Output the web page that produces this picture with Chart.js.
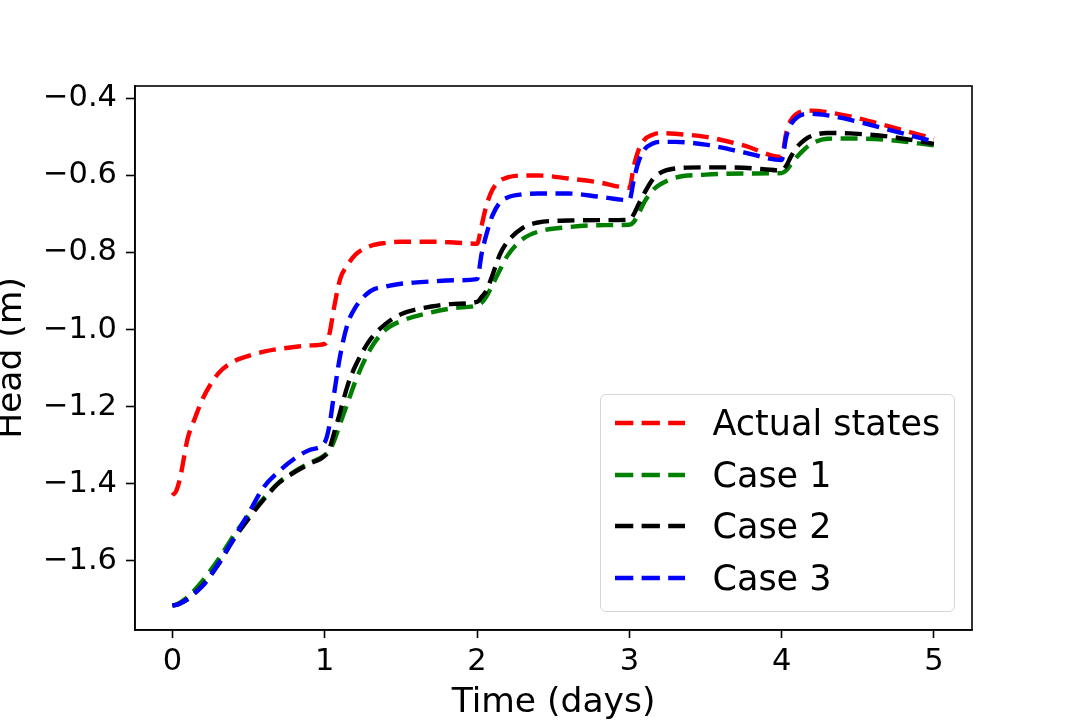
<!DOCTYPE html>
<html><head><meta charset="utf-8">
<script src="https://cdn.jsdelivr.net/npm/chart.js@4.4.0/dist/chart.umd.min.js"></script>
<style>
html,body{margin:0;padding:0;background:#fff;}
#wrap{position:relative;width:1080px;height:720px;overflow:hidden;}
#c{position:absolute;left:0;top:0;width:1080px;height:720px;}
#legend{position:absolute;left:600px;top:394px;width:353px;height:216px;border:1.5px solid #d6d6d6;border-radius:6px;background:rgba(255,255,255,0.8);}
.row{position:absolute;left:0;height:40px;display:flex;align-items:center;font-family:'DejaVu Sans';font-size:35px;color:#000;white-space:nowrap;}
.row svg{margin-left:13.5px;margin-right:28px;display:block;}
</style></head><body>
<div id="wrap"><canvas id="c" width="1080" height="720"></canvas><div id="legend"></div></div>
<script>
// ---- data ----
const timeDays = [0, 0.025, 0.05, 0.1, 0.15, 0.2, 0.3, 0.4, 0.5, 0.6, 0.7, 0.8, 0.9, 1.0,
  1.03, 1.06, 1.1, 1.15, 1.2, 1.3, 1.4, 1.5, 1.7, 1.85, 2.0,
  2.03, 2.06, 2.1, 2.15, 2.2, 2.3, 2.4, 2.6, 2.8, 3.0,
  3.03, 3.06, 3.1, 3.15, 3.2, 3.3, 3.5, 3.75, 4.0,
  4.03, 4.06, 4.1, 4.15, 4.2, 4.3, 4.45, 4.7, 5.0];

const actualStates = [-1.430, -1.418, -1.385, -1.282, -1.227, -1.178, -1.114, -1.083, -1.068, -1.057, -1.050, -1.045, -1.041, -1.037,
  -1.012, -0.945, -0.870, -0.832, -0.806, -0.783, -0.775, -0.772, -0.772, -0.774, -0.777,
  -0.730, -0.680, -0.638, -0.614, -0.605, -0.600, -0.600, -0.608, -0.618, -0.632,
  -0.575, -0.535, -0.507, -0.495, -0.490, -0.492, -0.500, -0.522, -0.552,
  -0.490, -0.457, -0.440, -0.433, -0.432, -0.436, -0.447, -0.472, -0.505];

const case1 = [-1.715, -1.713, -1.708, -1.693, -1.673, -1.650, -1.597, -1.535, -1.482, -1.437, -1.396, -1.368, -1.346, -1.326,
  -1.315, -1.290, -1.245, -1.190, -1.135, -1.050, -1.000, -0.978, -0.955, -0.944, -0.937,
  -0.930, -0.915, -0.885, -0.845, -0.808, -0.765, -0.746, -0.734, -0.729, -0.728,
  -0.720, -0.700, -0.668, -0.640, -0.624, -0.606, -0.598, -0.595, -0.594,
  -0.587, -0.572, -0.552, -0.532, -0.517, -0.505, -0.504, -0.508, -0.522];

const case2 = [-1.715, -1.714, -1.710, -1.699, -1.682, -1.662, -1.610, -1.545, -1.490, -1.440, -1.397, -1.370, -1.348, -1.327,
  -1.310, -1.270, -1.215, -1.145, -1.095, -1.025, -0.985, -0.960, -0.940, -0.933, -0.928,
  -0.915, -0.900, -0.860, -0.805, -0.772, -0.736, -0.722, -0.717, -0.716, -0.715,
  -0.700, -0.675, -0.645, -0.612, -0.594, -0.582, -0.579, -0.580, -0.587,
  -0.575, -0.552, -0.527, -0.508, -0.497, -0.490, -0.491, -0.499, -0.518];

const case3 = [-1.715, -1.714, -1.710, -1.699, -1.682, -1.664, -1.608, -1.543, -1.476, -1.408, -1.367, -1.335, -1.312, -1.292,
  -1.250, -1.170, -1.070, -0.985, -0.943, -0.900, -0.888, -0.881, -0.875, -0.872, -0.869,
  -0.803, -0.755, -0.705, -0.670, -0.657, -0.649, -0.647, -0.647, -0.655, -0.664,
  -0.610, -0.565, -0.532, -0.518, -0.513, -0.513, -0.520, -0.540, -0.560,
  -0.500, -0.468, -0.450, -0.441, -0.440, -0.444, -0.456, -0.481, -0.512];

const seriesLabels = ['Actual states', 'Case 1', 'Case 2', 'Case 3'];
const seriesColors = ['#ff0000', '#008000', '#000000', '#0000ff'];
const seriesValues = [actualStates, case1, case2, case3];
const xTickStep = 1;
const yTickStep = 0.2;
const xLabel = 'Time (days)';
const yLabel = 'Head (m)';

// ---- chart ----
const FONT = 'DejaVu Sans';
const DASH = [17, 8.5];

const datasets = seriesValues.map((vals, i) => ({
  label: seriesLabels[i],
  data: vals.map((v, k) => ({x: timeDays[k], y: v})),
  borderColor: seriesColors[i],
  backgroundColor: seriesColors[i],
  borderWidth: 4.4,
  borderDash: DASH,
  borderCapStyle: 'butt',
  pointRadius: 0,
  fill: false,
  cubicInterpolationMode: 'monotone',
  order: seriesValues.length - i
}));

const frame = {
  id: 'frame',
  afterDatasetsDraw(chart) {
    const a = chart.chartArea, ctx = chart.ctx;
    ctx.save();
    ctx.strokeStyle = '#000';
    ctx.lineWidth = 1.6;
    ctx.setLineDash([]);
    ctx.strokeRect(a.left, a.top, a.right - a.left, a.bottom - a.top);
    ctx.restore();
  }
};

const chart = new Chart(document.getElementById('c'), {
  type: 'line',
  data: {datasets},
  plugins: [frame],
  options: {
    responsive: false,
    animation: false,
    devicePixelRatio: 1,
    layout: {padding: {left: 0, top: 86, right: 108, bottom: 0}},
    plugins: {legend: {display: false}, tooltip: {enabled: false}},
    scales: {
      x: {
        type: 'linear',
        min: -0.246, max: 5.25,
        afterFit: s => { s.height = 90; },
        border: {display: true, color: '#000', width: 1.6},
        grid: {display: true, drawOnChartArea: false, drawTicks: true, tickLength: 8, tickColor: '#000', tickWidth: 1.6},
        ticks: {
          stepSize: xTickStep, includeBounds: false, color: '#000', padding: 9, maxRotation: 0,
          font: {family: FONT, size: 30.5, lineHeight: 1},
          callback: v => String(Math.round(v))
        },
        title: {display: true, text: xLabel, color: '#000', font: {family: FONT, size: 34.5, lineHeight: 1}, padding: {top: 0, bottom: 0}}
      },
      y: {
        type: 'linear',
        min: -1.779, max: -0.368,
        afterFit: s => { s.width = 135; },
        border: {display: true, color: '#000', width: 1.6},
        grid: {display: true, drawOnChartArea: false, drawTicks: true, tickLength: 9, tickColor: '#000', tickWidth: 1.6},
        ticks: {
          stepSize: yTickStep, includeBounds: false, color: '#000', padding: 9,
          font: {family: FONT, size: 30.5, lineHeight: 1},
          callback: v => v.toFixed(1).replace('-', '\u2212')
        },
        title: {display: true, text: yLabel, color: '#000', font: {family: FONT, size: 34.5, lineHeight: 1}, padding: {top: -5, bottom: 0}}
      }
    }
  }
});

// ---- legend built from the chart's datasets ----
const legend = document.getElementById('legend');
const rowCenters = [423.3, 475, 526.7, 578.3];
chart.data.datasets.forEach((ds, i) => {
  const row = document.createElement('div');
  row.className = 'row';
  row.style.top = (rowCenters[i] - 20 - 395.5) + 'px';
  const svgNS = 'http://www.w3.org/2000/svg';
  const svg = document.createElementNS(svgNS, 'svg');
  svg.setAttribute('width', '70'); svg.setAttribute('height', '10');
  const ln = document.createElementNS(svgNS, 'line');
  ln.setAttribute('x1', '0'); ln.setAttribute('y1', '5');
  ln.setAttribute('x2', '70'); ln.setAttribute('y2', '5');
  ln.setAttribute('stroke', ds.borderColor);
  ln.setAttribute('stroke-width', '4.3');
  ln.setAttribute('stroke-dasharray', '18.3 8.3');
  svg.appendChild(ln);
  const span = document.createElement('span');
  span.textContent = ds.label;
  row.appendChild(svg); row.appendChild(span);
  legend.appendChild(row);
});
</script>
</body></html>
